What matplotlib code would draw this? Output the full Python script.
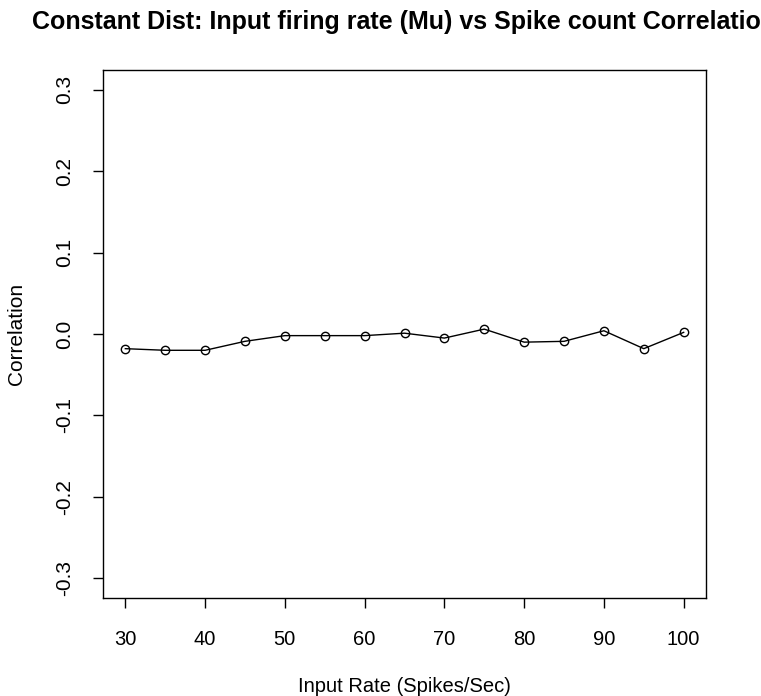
import matplotlib
matplotlib.use("Agg")
import matplotlib.pyplot as plt

plt.rcParams['font.family'] = ['Liberation Sans', 'DejaVu Sans']

input_rate = [30, 35, 40, 45, 50, 55, 60, 65, 70, 75, 80, 85, 90, 95, 100]
correlation = [-0.018, -0.020, -0.020, -0.009, -0.002, -0.002, -0.002, 0.001,
               -0.005, 0.006, -0.010, -0.009, 0.004, -0.018, 0.002]
x_ticks = [30, 40, 50, 60, 70, 80, 90, 100]
y_ticks = [-0.3, -0.2, -0.1, 0.0, 0.1, 0.2, 0.3]

W, H = 761, 696
fig = plt.figure(figsize=(W / 100, H / 100), dpi=100)
ax = fig.add_axes([103 / W, 1 - 598 / H, (706 - 103) / W, (598 - 70) / H])

ax.plot(input_rate, correlation, color='black', linewidth=1.0,
        marker='o', markersize=6, markerfacecolor='none',
        markeredgecolor='black', markeredgewidth=1.0)

ax.set_xlim(27.2, 102.8)
ax.set_ylim(-0.324, 0.324)
ax.set_xticks(x_ticks)
ax.set_xticklabels([str(v) for v in x_ticks])
ax.set_yticks(y_ticks)
ax.set_yticklabels([f"{v:.1f}" for v in y_ticks], rotation=90, va='center')
ax.tick_params(axis='both', length=7, width=1, direction='out')
ax.tick_params(axis='x', labelsize=14.5, pad=16)
ax.tick_params(axis='y', labelsize=15, pad=14)
for s in ax.spines.values():
    s.set_linewidth(1.0)

ax.set_xlabel("Input Rate (Spikes/Sec)", fontsize=14.5)
ax.xaxis.set_label_coords((404.5 - 103) / 603, (598 - 686) / 528)
ax.xaxis.label.set_va('center')
ax.set_ylabel("Correlation", fontsize=15)
ax.yaxis.set_label_coords((17 - 103) / 603, (598 - 334) / 528)
ax.yaxis.label.set_va('center')

fig.text(404.5 / W, 1 - 22 / H,
         "Constant Dist: Input firing rate (Mu) vs Spike count Correlation",
         ha='center', va='center', fontsize=18, fontweight='bold')

fig.savefig("out.png", dpi=100)
